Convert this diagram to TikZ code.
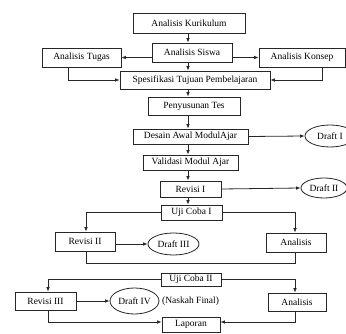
\documentclass[tikz,border=0pt]{standalone}
\usepackage{fontspec}
\setmainfont{Liberation Serif}
\usetikzlibrary{arrows.meta,shapes.geometric}
\tikzset{
  box/.style={draw=black!85, line width=0.8pt, rectangle, inner sep=0pt, fill=white},
  oval/.style={draw=black!85, line width=0.8pt, ellipse, inner sep=0pt, fill=white},
  conn/.style={draw=black!85, line width=0.8pt},
  arr/.style={conn, -{Latex[length=4.5pt,width=3.6pt]}},
}
\begin{document}
\begin{tikzpicture}[x=1pt,y=-1pt,font=\fontsize{9.5}{11}\selectfont]
\useasboundingbox (0,0) rectangle (346,334);
\clip (0,0) rectangle (346,334);
% boxes
\node[box, minimum width=112pt, minimum height=20pt] (kur) at (189,23) {Analisis Kurikulum};
\node[box, minimum width=80pt, minimum height=19pt] (siswa) at (192,52.5) {Analisis Siswa};
\node[box, minimum width=79pt, minimum height=19pt] (tugas) at (81.5,57.5) {Analisis Tugas};
\node[box, minimum width=86pt, minimum height=19pt] (konsep) at (302,57.5) {Analisis Konsep};
\node[box, minimum width=150pt, minimum height=18pt] (spes) at (195,80) {Spesifikasi Tujuan Pembelajaran};
\node[box, minimum width=92pt, minimum height=18pt] (tes) at (194,106) {Penyusunan Tes};
\node[box, minimum width=115pt, minimum height=15pt] (desain) at (190.5,136.5) {Desain Awal ModulAjar};
\node[box, minimum width=95pt, minimum height=15pt] (valid) at (190.5,162.5) {Validasi Modul Ajar};
\node[box, minimum width=61pt, minimum height=16pt] (rev1) at (190.5,189) {Revisi I};
\node[box, minimum width=61pt, minimum height=15pt] (uji1) at (191.5,212.5) {Uji Coba I};
\node[box, minimum width=60pt, minimum height=19pt] (rev2) at (85,241.5) {Revisi II};
\node[box, minimum width=60pt, minimum height=19pt] (ana1) at (296,242.5) {Analisis};
\node[box, minimum width=60pt, minimum height=13pt] (uji2) at (191,279.5) {Uji Coba II};
\node[box, minimum width=61pt, minimum height=18pt] (rev3) at (45.5,301) {Revisi III};
\node[box, minimum width=58pt, minimum height=18pt] (ana2) at (297,302) {Analisis};
\node[box, minimum width=58pt, minimum height=15pt] (lap) at (191,324.5) {Laporan};
% ellipses
\node[oval, minimum width=50pt, minimum height=22pt] (d1) at (330,136) {Draft I};
\node[oval, minimum width=46pt, minimum height=20pt] (d2) at (324,188) {Draft II};
\node[oval, minimum width=51pt, minimum height=22pt] (d3) at (173.5,244) {Draft III};
\node[oval, minimum width=49pt, minimum height=26pt] (d4) at (134.5,301) {Draft IV};
\node[anchor=west, inner sep=0pt] (nf) at (162,301) {(Naskah Final)};
% coordinates
\coordinate (tx) at (68,0);
\coordinate (kx) at (322,0);
\coordinate (mx) at (188,0);
\coordinate (lx1) at (86,0);
\coordinate (rx) at (295,0);
\coordinate (lx2) at (48,0);
\coordinate (by1) at (0,263);
\coordinate (by2) at (0,322);
% connectors
\draw[arr] (mx |- kur.south) -- (mx |- siswa.north);
\draw[arr] (siswa.west |- tugas) -- (tugas.east);
\draw[arr] (siswa.east |- konsep) -- (konsep.west);
\draw[arr] (mx |- siswa.south) -- (mx |- spes.north);
\draw[arr] (tx |- tugas.south) -- (tx |- spes.west) -- (spes.west);
\draw[arr] (kx |- konsep.south) -- (kx |- spes.east) -- (spes.east);
\draw[arr] (mx |- spes.south) -- (mx |- tes.north);
\draw[arr] (mx |- tes.south) -- (mx |- desain.north);
\draw[arr] (desain.east) -- (d1.west);
\draw[arr] (mx |- desain.south) -- (mx |- valid.north);
\draw[arr] (mx |- valid.south) -- (mx |- rev1.north);
\draw[arr] (rev1.east) -- (d2.west);
\draw[arr] (mx |- rev1.south) -- (mx |- uji1.north);
\draw[arr] (uji1.west) -- (lx1 |- uji1.west) -- (lx1 |- rev2.north);
\draw[arr] (uji1.east) -- (rx |- uji1.east) -- (rx |- ana1.north);
\draw[arr] (rev2.east |- d3) -- (d3.west);
\draw[conn] (lx1 |- rev2.south) -- (lx1 |- by1) -- (rx |- by1) -- (rx |- ana1.south);
\draw[arr] (uji2.west) -- (lx2 |- uji2.west) -- (lx2 |- rev3.north);
\draw[arr] (uji2.east) -- (rx |- uji2.east) -- (rx |- ana2.north);
\draw[arr] (rev3.east) -- (d4.west);
\draw[arr] (lx2 |- rev3.south) -- (lx2 |- by2) -- (lap.west |- by2);
\draw[arr] (rx |- ana2.south) -- (rx |- by2) -- (lap.east |- by2);
\end{tikzpicture}
\end{document}
